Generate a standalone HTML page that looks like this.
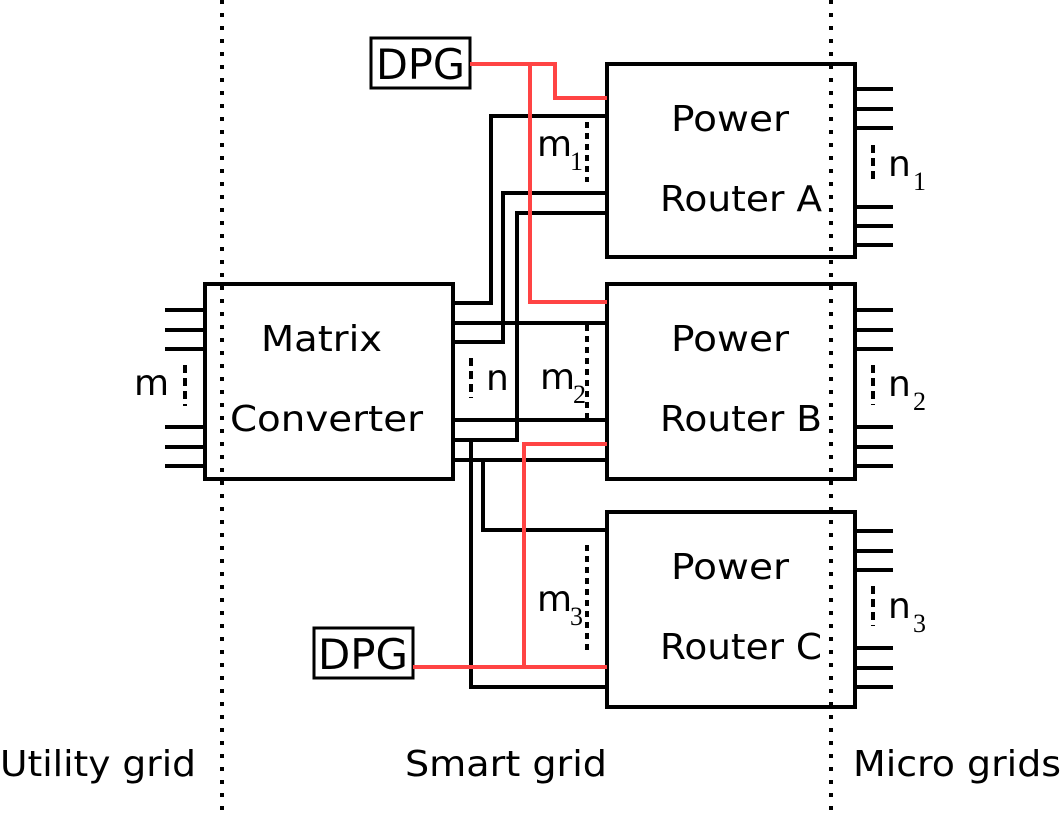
<!DOCTYPE html>
<html><head><meta charset="utf-8"><style>html,body{margin:0;padding:0;background:#fff}svg{display:block}</style></head><body>
<svg width="1061" height="814" viewBox="0 0 1061 814" xmlns="http://www.w3.org/2000/svg" font-family="DejaVu Sans, Liberation Sans, sans-serif">
<g stroke="#000" stroke-width="4" stroke-dasharray="4 9" fill="none">
<line x1="222" y1="0" x2="222" y2="814"/>
<line x1="831" y1="0" x2="831" y2="814"/>
</g>
<g stroke="#000" stroke-width="4" stroke-dasharray="6 5" fill="none">
<line x1="587" y1="122" x2="587" y2="182"/>
<line x1="587" y1="325" x2="587" y2="418"/>
<line x1="587" y1="545" x2="587" y2="652"/>
</g>
<g stroke="#000" stroke-width="4" stroke-dasharray="8 5" fill="none">
<line x1="185" y1="365" x2="185" y2="406"/>
<line x1="471" y1="358" x2="471" y2="398"/>
<line x1="873" y1="145" x2="873" y2="184"/>
<line x1="873" y1="365" x2="873" y2="405"/>
<line x1="873" y1="586" x2="873" y2="626"/>
</g>
<g stroke="#000" stroke-width="4" fill="none">
<rect x="205" y="284" width="248" height="195"/>
<rect x="607" y="64" width="248" height="193"/>
<rect x="607" y="284" width="248" height="195"/>
<rect x="607" y="512" width="248" height="195"/>
<rect x="371" y="38" width="99" height="50" stroke-width="3"/>
<rect x="314" y="628" width="99" height="50" stroke-width="3"/>
<path d="M165 310H205M165 330H205M165 349H205M165 427H205M165 447H205M165 466H205"/>
<path d="M855 89H893M855 109H893M855 128H893M855 207H893M855 226H893M855 245H893"/>
<path d="M855 310H893M855 330H893M855 349H893M855 427H893M855 447H893M855 466H893"/>
<path d="M855 531H893M855 551H893M855 570H893M855 648H893M855 668H893M855 687H893"/>
<path d="M453 303H491V116H607"/>
<path d="M453 342H503V193H607"/>
<path d="M453 440H517V213H607"/>
<path d="M453 323H607"/>
<path d="M453 420H607"/>
<path d="M453 460H607"/>
<path d="M471 440V687H607"/>
<path d="M483 460V530H607"/>
</g>
<g stroke="#f44" stroke-width="4" fill="none">
<path d="M470 64H555V98H607"/>
<path d="M530 64V302H607"/>
<path d="M607 444H524V667"/>
<path d="M413 667H607"/>
</g>
<g fill="#000" font-size="36">
<text x="376" y="79" font-size="42" textLength="89" lengthAdjust="spacingAndGlyphs">DPG</text>
<text x="318" y="669" font-size="42" textLength="90" lengthAdjust="spacingAndGlyphs">DPG</text>
<text x="261" y="351" textLength="121" lengthAdjust="spacingAndGlyphs">Matrix</text>
<text x="230" y="431" textLength="193" lengthAdjust="spacingAndGlyphs">Converter</text>
<text x="671" y="131" textLength="118" lengthAdjust="spacingAndGlyphs">Power</text>
<text x="660" y="211" textLength="162" lengthAdjust="spacingAndGlyphs">Router A</text>
<text x="671" y="351" textLength="118" lengthAdjust="spacingAndGlyphs">Power</text>
<text x="660" y="431" textLength="162" lengthAdjust="spacingAndGlyphs">Router B</text>
<text x="671" y="579" textLength="118" lengthAdjust="spacingAndGlyphs">Power</text>
<text x="660" y="659" textLength="162" lengthAdjust="spacingAndGlyphs">Router C</text>
<text x="134" y="395">m</text>
<text x="486" y="390">n</text>
<text x="537" y="156">m</text>
<text x="570" y="170" font-size="26" font-family="Liberation Serif, serif">1</text>
<text x="540" y="389">m</text>
<text x="573" y="403" font-size="26" font-family="Liberation Serif, serif">2</text>
<text x="537" y="611">m</text>
<text x="570" y="625" font-size="26" font-family="Liberation Serif, serif">3</text>
<text x="888" y="176">n</text>
<text x="913" y="190" font-size="26" font-family="Liberation Serif, serif">1</text>
<text x="888" y="396">n</text>
<text x="913" y="410" font-size="26" font-family="Liberation Serif, serif">2</text>
<text x="888" y="618">n</text>
<text x="913" y="632" font-size="26" font-family="Liberation Serif, serif">3</text>
<text x="0" y="776" textLength="196" lengthAdjust="spacingAndGlyphs">Utility grid</text>
<text x="405" y="776" textLength="202" lengthAdjust="spacingAndGlyphs">Smart grid</text>
<text x="853" y="776" textLength="208" lengthAdjust="spacingAndGlyphs">Micro grids</text>
</g>
</svg>
</body></html>
